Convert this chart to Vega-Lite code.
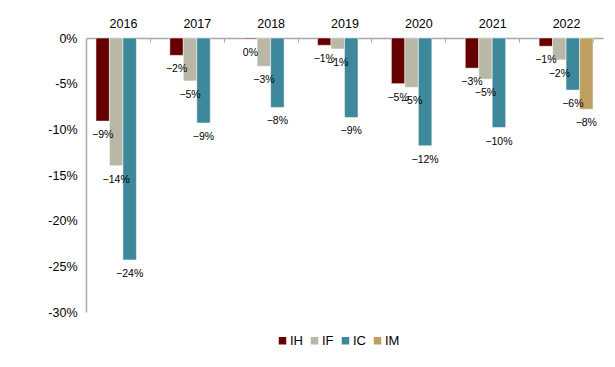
{
  "$schema": "https://vega.github.io/schema/vega-lite/v6.json",
  "autosize": {"type": "none"},
  "width": 517,
  "height": 274,
  "padding": {"left": 86, "top": 38, "right": 12, "bottom": 55},
  "background": "white",
  "config": {
    "font": "Liberation Sans",
    "view": {"stroke": null}
  },
  "data": {
    "values": [
      {"year": "2016", "s": "IH", "v": -0.091},
      {"year": "2016", "s": "IF", "v": -0.140},
      {"year": "2016", "s": "IC", "v": -0.243},
      {"year": "2017", "s": "IH", "v": -0.019},
      {"year": "2017", "s": "IF", "v": -0.047},
      {"year": "2017", "s": "IC", "v": -0.093},
      {"year": "2018", "s": "IH", "v": -0.001},
      {"year": "2018", "s": "IF", "v": -0.031},
      {"year": "2018", "s": "IC", "v": -0.076},
      {"year": "2019", "s": "IH", "v": -0.008},
      {"year": "2019", "s": "IF", "v": -0.012},
      {"year": "2019", "s": "IC", "v": -0.087},
      {"year": "2020", "s": "IH", "v": -0.050},
      {"year": "2020", "s": "IF", "v": -0.054},
      {"year": "2020", "s": "IC", "v": -0.118},
      {"year": "2021", "s": "IH", "v": -0.033},
      {"year": "2021", "s": "IF", "v": -0.045},
      {"year": "2021", "s": "IC", "v": -0.098},
      {"year": "2022", "s": "IH", "v": -0.009},
      {"year": "2022", "s": "IF", "v": -0.024},
      {"year": "2022", "s": "IC", "v": -0.057},
      {"year": "2022", "s": "IM", "v": -0.078}
    ]
  },
  "encoding": {
    "x": {
      "field": "year",
      "type": "nominal",
      "scale": {"paddingInner": 0.27, "paddingOuter": 0.135},
      "axis": {
        "orient": "top",
        "title": null,
        "labelAngle": 0,
        "labelFontSize": 12.5,
        "labelColor": "#000",
        "labelPadding": 12,
        "domainColor": "#a6a6a6",
        "domainWidth": 1.5,
        "tickColor": "#a6a6a6",
        "tickBand": "extent",
        "tickSize": -4
      }
    },
    "xOffset": {
      "field": "s",
      "type": "nominal",
      "scale": {"domain": ["IH", "IF", "IC", "IM"], "paddingInner": 0}
    },
    "y": {
      "field": "v",
      "type": "quantitative",
      "scale": {"domain": [-0.3, 0], "nice": false},
      "axis": {
        "title": null,
        "values": [-0.3, -0.25, -0.2, -0.15, -0.1, -0.05, 0],
        "format": ".0%",
        "labelExpr": "replace(datum.label, '−', '-')",
        "grid": false,
        "ticks": false,
        "labelPadding": 9,
        "labelFontSize": 12.5,
        "labelColor": "#000",
        "domainColor": "#a6a6a6",
        "domainWidth": 1.5
      }
    }
  },
  "layer": [
    {
      "mark": {"type": "bar", "stroke": "white", "strokeWidth": 0.5},
      "encoding": {
        "color": {
          "field": "s",
          "type": "nominal",
          "scale": {
            "domain": ["IH", "IF", "IC", "IM"],
            "range": ["#660000", "#b9b7a6", "#3d889a", "#c0a062"]
          },
          "legend": {
            "title": null,
            "orient": "none",
            "legendX": 190,
            "legendY": 296,
            "direction": "horizontal",
            "symbolType": "square",
            "symbolSize": 56,
            "symbolStrokeWidth": 0,
            "labelFontSize": 13,
            "labelColor": "#000",
            "labelOffset": 1,
            "columnPadding": 5
          }
        }
      }
    },
    {
      "mark": {"type": "text", "baseline": "middle", "align": "center", "dy": 14, "fontSize": 10.5, "color": "#000"},
      "encoding": {
        "text": {"field": "v", "type": "quantitative", "format": ".0%"}
      }
    }
  ]
}
